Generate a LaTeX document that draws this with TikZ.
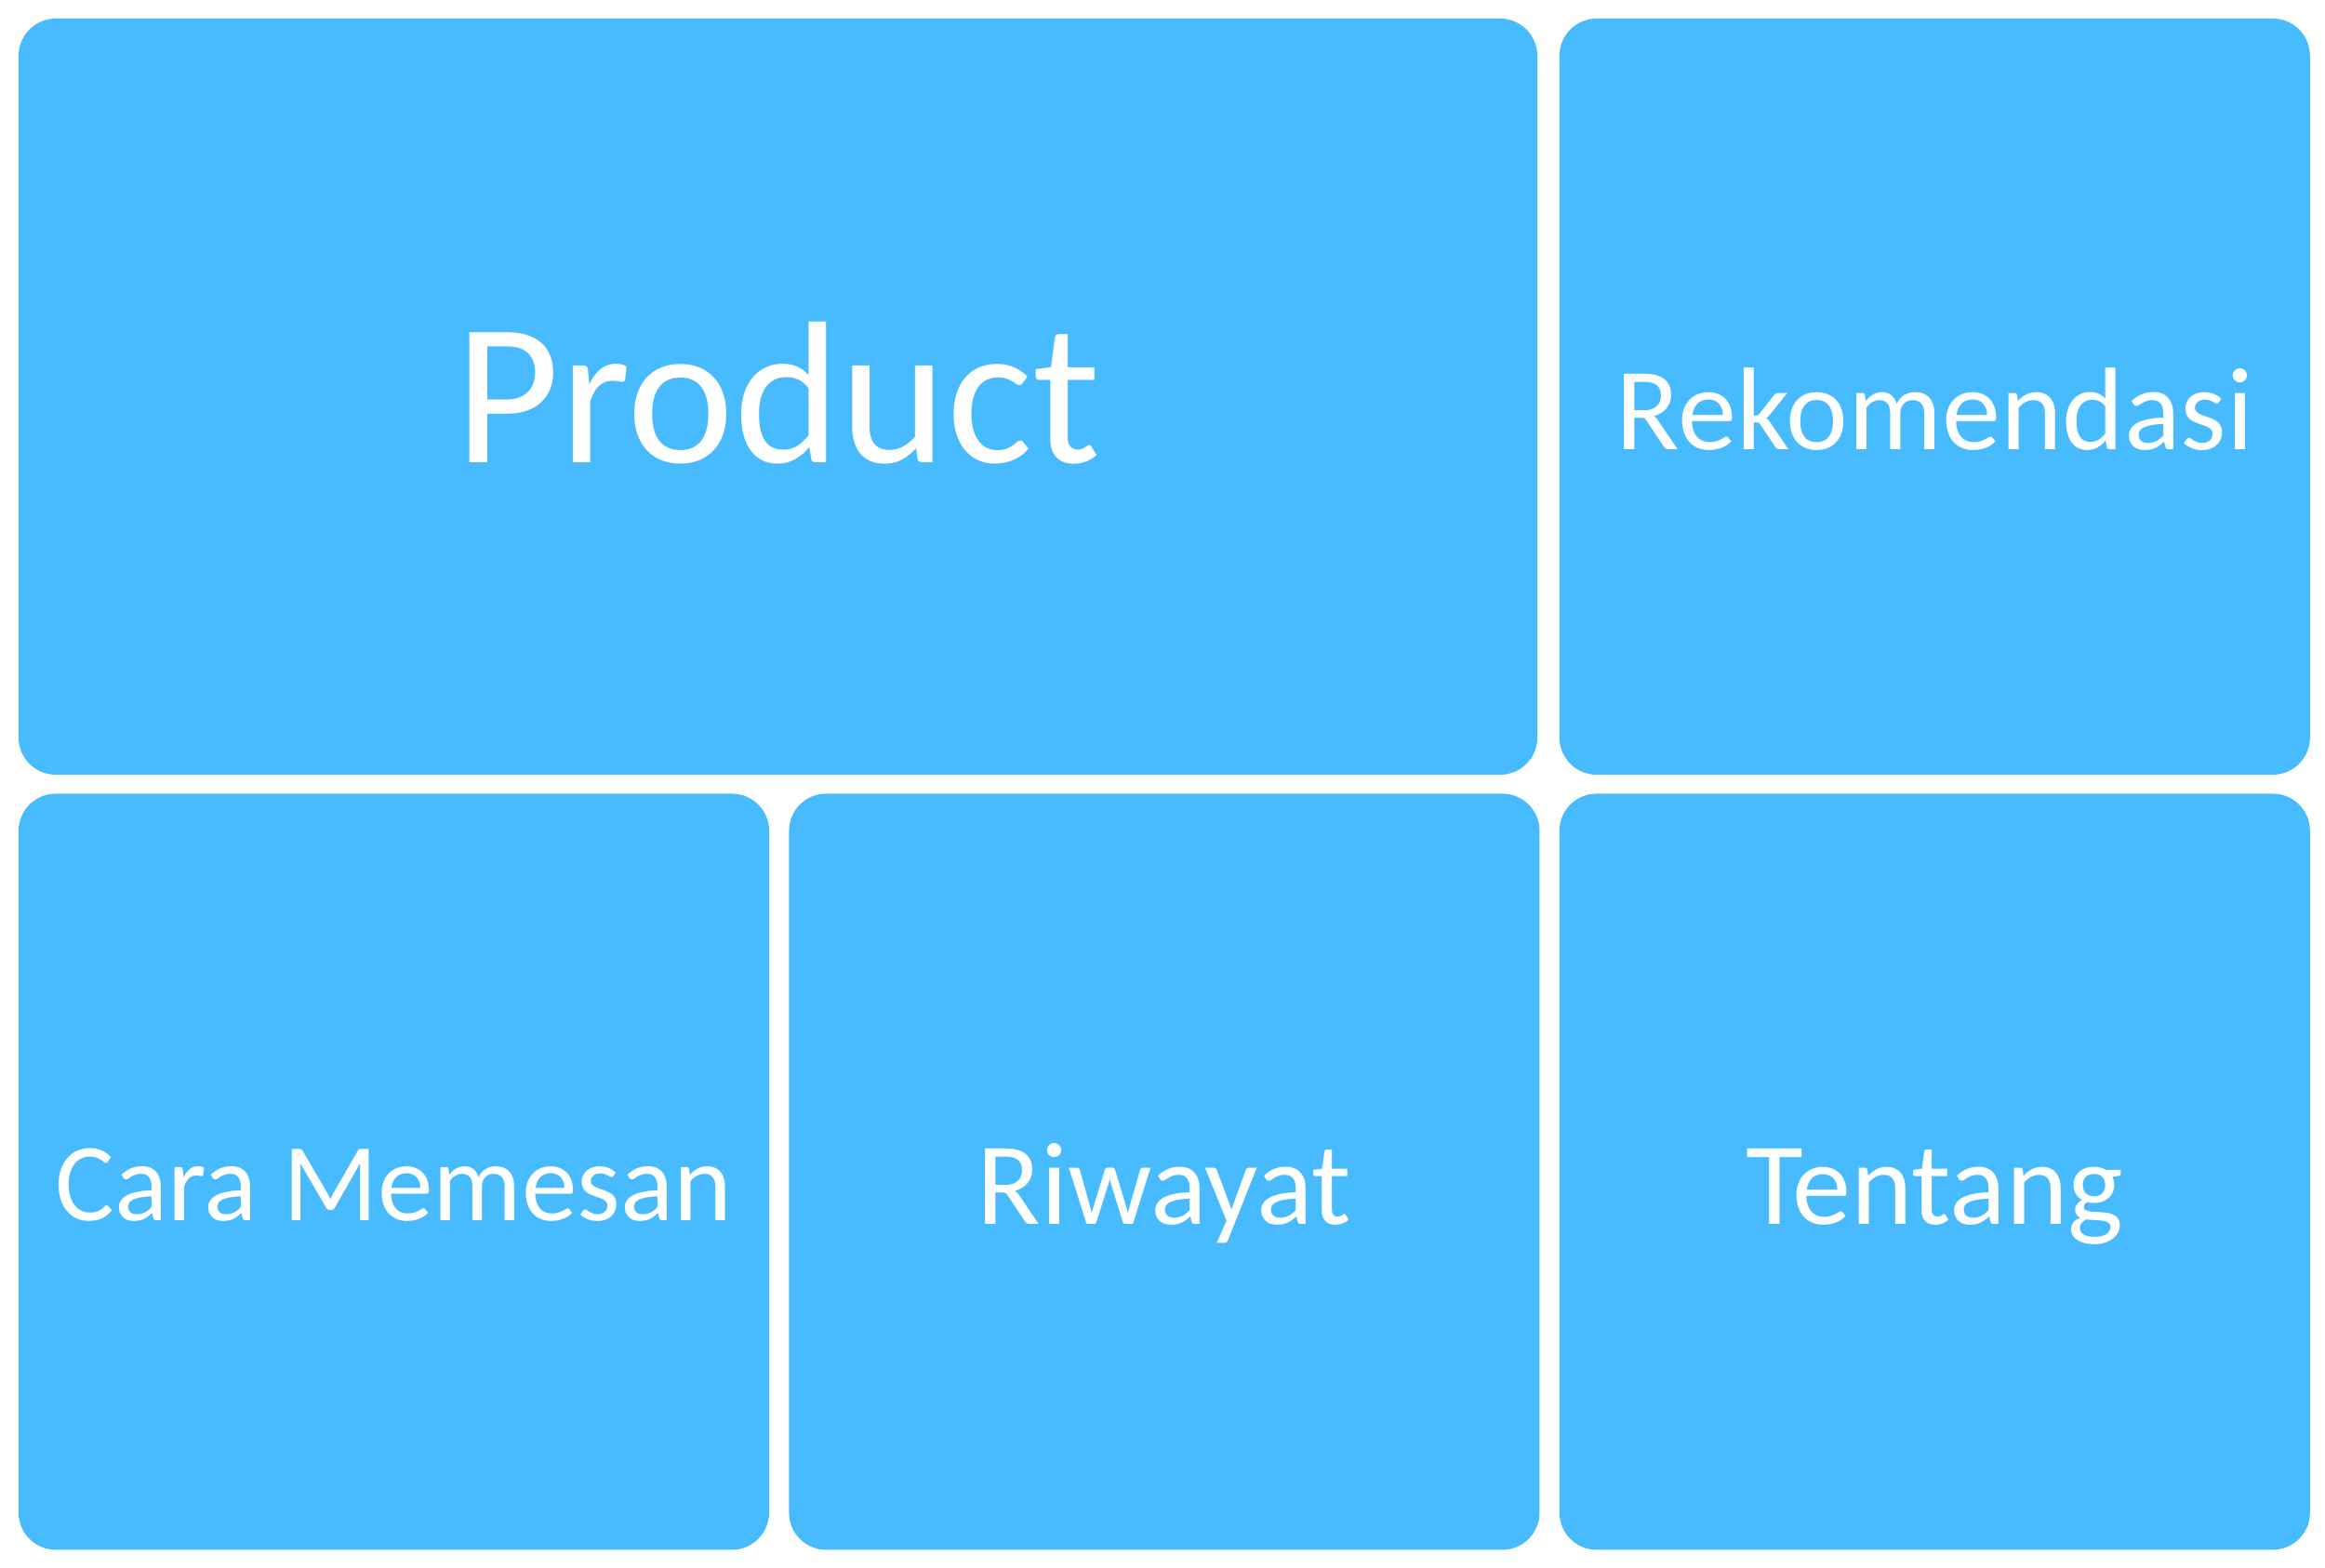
\documentclass[tikz,border=0pt]{standalone}
\usepackage{fontspec}
\setmainfont{Carlito}
\usepackage{tikz}
\usetikzlibrary{positioning}

\definecolor{tileblue}{RGB}{72,187,255}

\tikzset{
  tile/.style={fill=tileblue, draw=none, rounded corners=0.4cm, inner sep=0pt,
    minimum width=8.07cm, minimum height=8.13cm, text=white,
    font=\fontsize{36}{40}\selectfont, text height=1.14cm, text depth=0pt},
  bigtile/.style={tile, minimum width=16.33cm,
    font=\fontsize{62}{70}\selectfont, text height=1.42cm}
}

\begin{document}
\begin{tikzpicture}
   \useasboundingbox (0,0) rectangle (25,16.86);
   \node[bigtile] (product) at (8.365,12.595) {Product};
   \node[tile, anchor=north west, font=\fontsize{34}{38}\selectfont, text height=1.05cm] (cara) at ([yshift=-0.19cm]product.south west) {Cara Memesan};
   \node[tile, right=0.2cm of cara] (riwayat) {Riwayat};
   \node[tile, right=0.2cm of riwayat] (tentang) {Tentang};
   \node[tile, above=0.19cm of tentang] (rekomendasi) {Rekomendasi};
\end{tikzpicture}
\end{document}
